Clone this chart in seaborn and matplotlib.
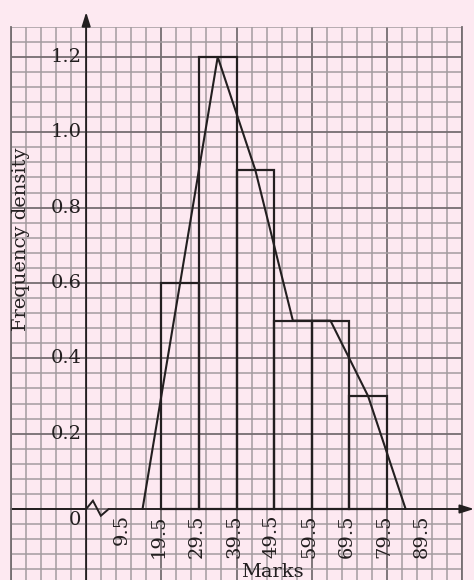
import numpy as np
import pandas as pd
import matplotlib
matplotlib.use("Agg")
import matplotlib.pyplot as plt
import seaborn as sns

# ---- data ----
class_edges = [19.5, 29.5, 39.5, 49.5, 59.5, 69.5, 79.5]
class_mids = [24.5, 34.5, 44.5, 54.5, 64.5, 74.5]
freq_density = [0.6, 1.2, 0.9, 0.5, 0.5, 0.3]
poly_x = [14.5, 24.5, 34.5, 44.5, 54.5, 64.5, 74.5, 84.5]
poly_y = [0.0, 0.6, 1.2, 0.9, 0.5, 0.5, 0.3, 0.0]
x_tick_vals = [9.5, 19.5, 29.5, 39.5, 49.5, 59.5, 69.5, 79.5, 89.5]
x_tick_labels = ["9.5", "19.5", "29.5", "39.5", "49.5", "59.5", "69.5", "79.5", "89.5"]
y_tick_vals = [0.2, 0.4, 0.6, 0.8, 1.0, 1.2]
y_tick_labels = ["0.2", "0.4", "0.6", "0.8", "1.0", "1.2"]

BG = "#fde9f1"
INK = "#231f20"
MINOR = "#a39c9f"
MAJOR = "#756e71"

sns.set_theme(style="white")
plt.rcParams["font.family"] = ["DejaVu Serif"]

fig = plt.figure(figsize=(4.74, 5.80), dpi=100, facecolor=BG)
ax = fig.add_axes([11 / 474, 0.0, 451 / 474, (580 - 26.8) / 580])
ax.set_facecolor(BG)

# graph-paper grid
ax.set_xticks(np.arange(-20.5, 100, 20))
ax.set_xticks(np.arange(-20.5, 100, 4), minor=True)
ax.set_yticks(np.arange(-0.2, 1.29, 0.2))
ax.set_yticks(np.arange(-0.16, 1.29, 0.04), minor=True)
ax.tick_params(which="both", length=0, labelbottom=False, labelleft=False)
ax.grid(which="minor", color=MINOR, lw=1.1)
ax.grid(which="major", color=MAJOR, lw=1.3)
ax.set_axisbelow(True)
for s in ["top", "bottom"]:
    ax.spines[s].set_visible(False)
for s in ["left", "right"]:
    ax.spines[s].set_color(MAJOR)
    ax.spines[s].set_linewidth(1.3)

# histogram
df = pd.DataFrame({"mid": class_mids, "density": freq_density})
sns.histplot(data=df, x="mid", weights="density", bins=class_edges, stat="count",
             fill=False, color=INK, linewidth=1.6, ax=ax, element="bars")
# frequency polygon
sns.lineplot(x=poly_x, y=poly_y, color=INK, linewidth=1.5, ax=ax, sort=False)
ax.set_xlabel("")
ax.set_ylabel("")
ax.set_xlim(-20.5, 99.5)
ax.set_ylim(-0.1885, 1.28)

# axes with arrows
ax.annotate("", xy=(-0.5, 1.319), xytext=(-0.5, -0.1885), annotation_clip=False,
            arrowprops=dict(arrowstyle="-|>,head_length=0.7,head_width=0.22", color=INK, lw=1.3,
                            shrinkA=0, shrinkB=0))
ax.annotate("", xy=(102.7, 0), xytext=(5.5, 0), annotation_clip=False,
            arrowprops=dict(arrowstyle="-|>,head_length=0.7,head_width=0.22", color=INK, lw=1.3,
                            shrinkA=0, shrinkB=0))
ax.plot([-20.5, -0.5, 1.3, 3.4, 5.5], [0, 0, 0.022, -0.018, 0], color=INK, lw=1.4,
        clip_on=False, solid_joinstyle="miter")

# tick labels
fs = 14
for v, t in zip(y_tick_vals, y_tick_labels):
    ax.text(-1.6, v, t, ha="right", va="center", fontsize=fs, color=INK)
ax.text(-1.9, -0.005, "0", ha="right", va="top", fontsize=fs, color=INK)
for v, t in zip(x_tick_vals, x_tick_labels):
    ax.text(v - 0.6, -0.014, t, ha="center", va="top", rotation=90, fontsize=fs, color=INK)

ax.text(49.0, -0.1815, "Marks", ha="center", va="baseline", fontsize=14, color=INK,
        clip_on=False)
ax.text(-17.8, 0.717, "Frequency density", ha="center", va="center", rotation=90,
        fontsize=14, color=INK)

fig.savefig("out.png", dpi=100, facecolor=BG)
